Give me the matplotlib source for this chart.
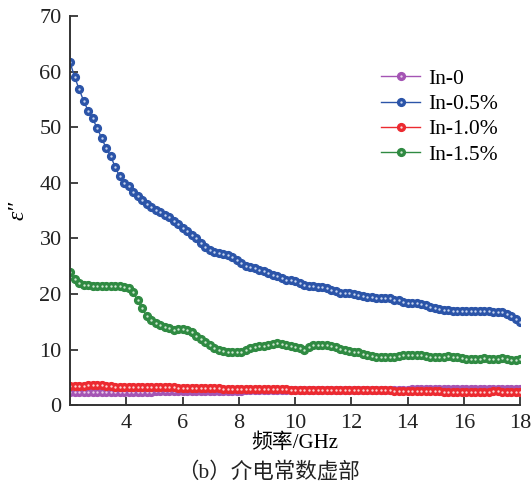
import matplotlib
matplotlib.use('Agg')
import matplotlib.pyplot as plt
import numpy as np

plt.rcParams['font.family'] = ['Liberation Serif', 'Noto Sans CJK SC']
plt.rcParams['mathtext.fontset'] = 'stix'

# frequency axis, 101 samples from 2 to 18 GHz
freq = np.linspace(2, 18, 101)

in_0 = [2.45, 2.4, 2.35, 2.3, 2.3, 2.3, 2.3, 2.35, 2.35, 2.4, 2.4,
        2.4, 2.4, 2.4, 2.4, 2.45, 2.45, 2.45, 2.45, 2.5, 2.5,
        2.5, 2.5, 2.5, 2.5, 2.5, 2.55, 2.55, 2.55, 2.55, 2.55,
        2.6, 2.6, 2.6, 2.6, 2.6, 2.6, 2.6, 2.6, 2.65, 2.65,
        2.65, 2.65, 2.65, 2.65, 2.65, 2.7, 2.7, 2.7, 2.7, 2.7,
        2.7, 2.7, 2.7, 2.7, 2.7, 2.7, 2.7, 2.7, 2.7, 2.7,
        2.7, 2.7, 2.7, 2.7, 2.7, 2.75, 2.75, 2.75, 2.75, 2.75,
        2.8, 2.8, 2.8, 2.8, 2.8, 2.85, 2.85, 2.85, 2.85, 2.9,
        2.9, 2.9, 2.9, 2.95, 2.95, 2.95, 3.0, 3.0, 3.0, 3.0,
        3.0, 3.0, 3.0, 3.0, 3.0, 3.0, 2.95, 2.95, 2.9, 2.85]

in_05 = [61.7, 59.1, 56.9, 54.8, 53.0, 51.6, 49.9, 48.1, 46.3, 44.9, 42.9,
         41.2, 40.0, 39.4, 38.4, 37.6, 36.9, 36.2, 35.6, 35.1, 34.7,
         34.3, 33.8, 33.2, 32.6, 31.9, 31.3, 30.7, 30.0, 29.2, 28.5,
         28.0, 27.6, 27.3, 27.2, 27.0, 26.7, 26.2, 25.6, 25.1, 24.8,
         24.7, 24.4, 24.1, 23.8, 23.4, 23.2, 22.9, 22.6, 22.45, 22.3,
         22.0, 21.7, 21.4, 21.4, 21.3, 21.2, 21.05, 20.8, 20.5, 20.25,
         20.15, 20.1, 20.0, 19.9, 19.7, 19.55, 19.45, 19.3, 19.2, 19.25,
         19.2, 19.0, 18.85, 18.65, 18.45, 18.3, 18.4, 18.25, 18.0, 17.65,
         17.4, 17.25, 17.15, 17.05, 17.0, 17.0, 16.9, 16.9, 16.9, 16.9,
         16.95, 17.0, 16.95, 16.85, 16.7, 16.7, 16.45, 16.0, 15.5, 15.0]

in_10 = [3.4, 3.45, 3.5, 3.5, 3.55, 3.6, 3.6, 3.55, 3.45, 3.4, 3.35,
         3.3, 3.25, 3.2, 3.2, 3.2, 3.25, 3.25, 3.25, 3.25, 3.25,
         3.2, 3.2, 3.2, 3.15, 3.15, 3.15, 3.1, 3.1, 3.1, 3.1,
         3.05, 3.05, 3.05, 3.0, 3.0, 3.0, 3.0, 2.95, 2.95, 2.95,
         2.9, 2.9, 2.9, 2.9, 2.85, 2.85, 2.85, 2.85, 2.8, 2.8,
         2.8, 2.8, 2.8, 2.75, 2.75, 2.75, 2.75, 2.75, 2.7, 2.7,
         2.7, 2.7, 2.7, 2.7, 2.7, 2.65, 2.65, 2.65, 2.65, 2.65,
         2.65, 2.6, 2.6, 2.6, 2.6, 2.6, 2.55, 2.55, 2.55, 2.5,
         2.5, 2.5, 2.45, 2.45, 2.4, 2.4, 2.35, 2.35, 2.35, 2.4,
         2.4, 2.45, 2.45, 2.5, 2.5, 2.45, 2.45, 2.4, 2.35, 2.3]

in_15 = [23.9, 22.7, 22.0, 21.6, 21.55, 21.4, 21.4, 21.4, 21.4, 21.4, 21.4,
         21.4, 21.3, 21.0, 20.3, 18.9, 17.4, 16.1, 15.3, 14.8, 14.4,
         14.1, 13.8, 13.6, 13.7, 13.75, 13.6, 13.1, 12.5, 11.9, 11.3,
         10.8, 10.3, 9.9, 9.7, 9.65, 9.6, 9.6, 9.6, 9.9, 10.3,
         10.5, 10.6, 10.7, 10.8, 11.0, 11.1, 11.05, 10.8, 10.65, 10.5,
         10.2, 9.9, 10.4, 10.75, 10.9, 10.9, 10.8, 10.7, 10.4, 10.1,
         9.9, 9.7, 9.6, 9.5, 9.25, 9.05, 8.9, 8.75, 8.7, 8.65,
         8.6, 8.7, 8.85, 9.0, 9.05, 9.05, 9.05, 8.95, 8.85, 8.7,
         8.65, 8.65, 8.7, 8.8, 8.75, 8.7, 8.5, 8.35, 8.3, 8.3,
         8.35, 8.4, 8.3, 8.3, 8.35, 8.4, 8.3, 8.15, 8.2, 8.3]

series = [
    ('In-0', in_0, '#a454b4', '#e7cdea'),
    ('In-0.5%', in_05, '#2b54a8', '#c9d6f0'),
    ('In-1.0%', in_10, '#ec2a30', '#fbd3d3'),
    ('In-1.5%', in_15, '#2f8a42', '#cfe8d2'),
]

fig = plt.figure(figsize=(5.32, 4.87), dpi=100)
ax = fig.add_axes([0.1316, 0.168, 0.846, 0.799])

handles = []
for name, vals, col, hl in series:
    main, = ax.plot(freq, vals, '-o', color=col, lw=1.0, ms=5.6,
                    mec=col, mfc=col, label=name)
    spot, = ax.plot(freq, vals, 'o', color=hl, ms=1.7, mec=hl, mew=0)
    handles.append((main, spot))

ax.set_xlim(2, 18)
ax.set_ylim(0, 70)
ax.set_xticks(np.arange(4, 19, 2))
ax.set_yticks(np.arange(0, 71, 10))
ax.tick_params(direction='in', length=6, width=1.2, labelsize=16,
               colors='#222222', pad=6)

for s in ['top', 'right']:
    ax.spines[s].set_visible(False)
for s in ['left', 'bottom']:
    ax.spines[s].set_linewidth(1.4)
    ax.spines[s].set_color('#333333')

ax.set_xlabel('频率/GHz', fontsize=15, labelpad=1)
ax.set_ylabel('ε″', fontsize=17, style='italic', labelpad=8)

ax.legend(handles, [s[0] for s in series], loc='upper right',
          bbox_to_anchor=(0.993, 0.915), frameon=False, fontsize=15.5,
          handlelength=1.8, handletextpad=0.35, labelspacing=0.25)

fig.text(0.505, 0.01, '（b）介电常数虚部', ha='center', va='bottom',
         fontsize=15.5, color='#222222')

plt.savefig('out.png', dpi=100)
